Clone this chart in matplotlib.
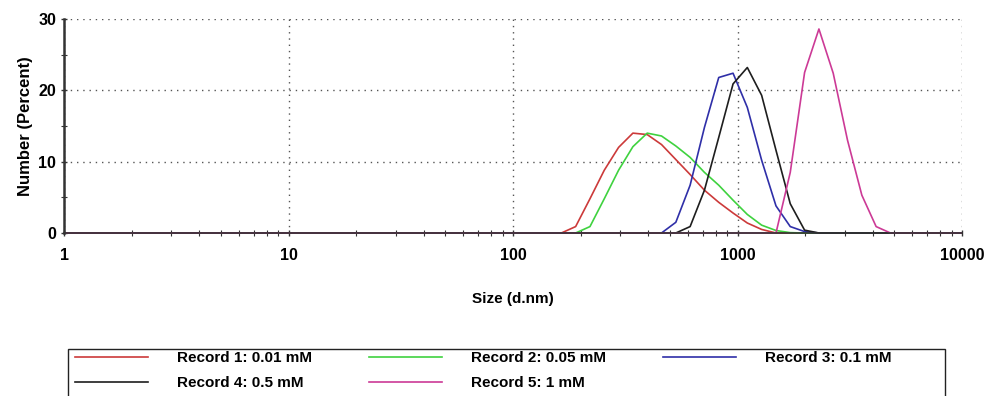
import matplotlib
matplotlib.use("Agg")
import matplotlib.pyplot as plt
from matplotlib.ticker import FixedLocator, NullFormatter
from matplotlib.transforms import Bbox, TransformedBbox
from matplotlib.patches import Rectangle

plt.rcParams['font.family'] = ['Liberation Sans', 'DejaVu Sans']

# Size bins (d.nm)
sizes = [0.4, 0.4632, 0.5365, 0.6213, 0.7195, 0.8332, 0.9649, 1.117, 1.294, 1.499,
         1.736, 2.010, 2.328, 2.696, 3.122, 3.615, 4.187, 4.849, 5.615, 6.503,
         7.531, 8.721, 10.10, 11.70, 13.54, 15.69, 18.17, 21.04, 24.36, 28.21,
         32.67, 37.84, 43.82, 50.75, 58.77, 68.06, 78.82, 91.28, 105.7, 122.4,
         141.8, 164.2, 190.1, 220.2, 255.0, 295.3, 342.0, 396.1, 458.7, 531.2,
         615.1, 712.4, 825.0, 955.4, 1106, 1281, 1484, 1718, 1990, 2305,
         2669, 3091, 3580, 4145, 4801, 5560, 6439, 7456, 8635, 10000]

record1 = [0] * 42 + [0.9, 4.8, 8.8, 12.0, 14.0, 13.8, 12.4, 10.3, 8.2, 6.0,
                      4.3, 2.8, 1.4, 0.5] + [0] * 14
record2 = [0] * 43 + [0.9, 4.8, 8.8, 12.1, 14.0, 13.6, 12.2, 10.6, 8.5, 6.7,
                      4.6, 2.6, 1.1, 0.35, 0.05] + [0] * 12
record3 = [0] * 49 + [1.5, 6.7, 14.8, 21.8, 22.4, 17.6, 10.2, 3.8, 0.9, 0.2] + [0] * 11
record4 = [0] * 50 + [0.9, 6.0, 13.4, 20.9, 23.2, 19.3, 11.6, 4.1, 0.4] + [0] * 11
record5 = [0] * 57 + [8.5, 22.5, 28.6, 22.4, 13.0, 5.3, 0.9] + [0] * 6

labels = ["Record 1: 0.01 mM", "Record 2: 0.05 mM", "Record 3: 0.1 mM",
          "Record 4: 0.5 mM", "Record 5: 1 mM"]
colors = ["#cc3a3a", "#3fd23f", "#2f2fa8", "#1e1e1e", "#cc3a96"]
series = [record1, record2, record3, record4, record5]

fig = plt.figure(figsize=(9.88, 3.96), dpi=100)
ax = fig.add_axes([64 / 988, 1 - 233 / 396, (962 - 64) / 988, (233 - 19) / 396])

clipbox = TransformedBbox(Bbox([[0, -0.05], [1, 1.05]]), ax.transAxes)
handles = []
for vals, col, lab in zip(series, colors, labels):
    ln, = ax.plot(sizes, vals, color=col, lw=1.2, label=lab)
    ln.set_clip_box(clipbox)
    handles.append(ln)

ax.set_xscale('log')
ax.set_xlim(1, 10000)
ax.set_ylim(0, 30)

ax.set_xticks([1, 10, 100, 1000, 10000])
ax.set_xticklabels(["1", "10", "100", "1000", "10000"])
minor = [m * 10 ** d for d in range(4) for m in range(2, 10)]
ax.xaxis.set_minor_locator(FixedLocator(minor))
ax.xaxis.set_minor_formatter(NullFormatter())
ax.set_yticks([0, 10, 20, 30])
ax.set_yticks([5, 15, 25], minor=True)

ax.tick_params(axis='both', which='major', direction='inout', length=5, width=1,
               color='#333333', labelsize=11.5, pad=3)
ax.tick_params(axis='both', which='minor', direction='inout', length=4, width=0.8,
               color='#333333')
ax.tick_params(axis='x', which='major', pad=8)
for t in ax.get_xticklabels() + ax.get_yticklabels():
    t.set_fontweight('bold')

ax.grid(True, which='major', linestyle=(0, (1, 3.5)), color='#555555', linewidth=1)
ax.spines['top'].set_visible(False)
ax.spines['right'].set_visible(False)
ax.spines['left'].set_color('#333333')
ax.spines['left'].set_linewidth(1.8)
ax.spines['bottom'].set_color('#333333')
ax.spines['bottom'].set_linewidth(1.2)

ax.set_xlabel("Size (d.nm)", fontsize=11, fontweight='bold', labelpad=21)
ax.set_ylabel("Number (Percent)", fontsize=12, fontweight='bold', labelpad=4)

# legend box (open at the bottom, cut by the figure edge)
fig.patches.append(Rectangle((68 / 988, -0.05), (945 - 68) / 988, 0.05 + (396 - 349) / 396,
                             transform=fig.transFigure, fill=False,
                             edgecolor='#222222', linewidth=1.0))

order = [0, 3, 1, 4, 2]
leg = fig.legend([handles[i] for i in order], [labels[i] for i in order],
                 loc='upper left', bbox_to_anchor=(75 / 988, 1 - 351 / 396),
                 ncol=3, fontsize=11, handlelength=4.8, handletextpad=1.9,
                 columnspacing=3.7, labelspacing=0.72, borderpad=0,
                 borderaxespad=0, frameon=False)
for t in leg.get_texts():
    t.set_fontweight('bold')

fig.savefig("out.png", dpi=100)
